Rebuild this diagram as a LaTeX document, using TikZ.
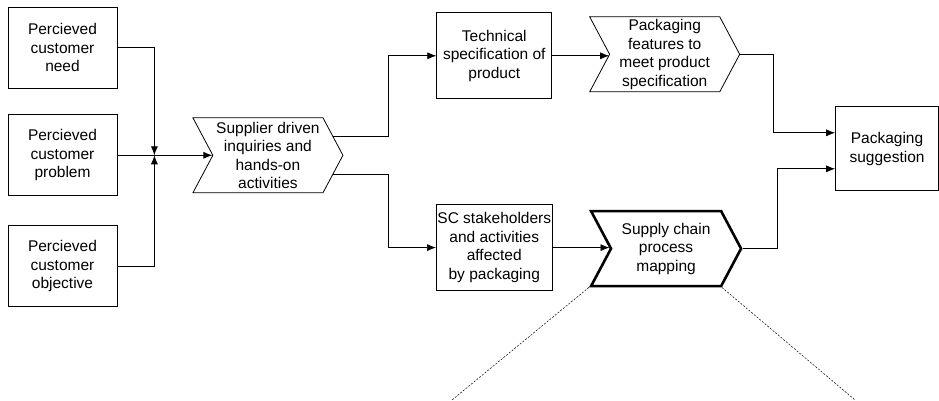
\documentclass[tikz,border=0pt]{standalone}
\usepackage{fontspec}
\setmainfont{Liberation Sans}
\usetikzlibrary{arrows.meta,positioning,shapes.symbols,calc}
\tikzstyle{line} = [draw, -{Latex[length=9pt,width=7pt]}, line width=0.7pt]

\begin{document}
\begin{tikzpicture}[x=1pt,y=1pt,font=\fontsize{15.5}{18.5}\selectfont,
box/.style={draw,rectangle,align=center,inner sep=1pt,line width=0.8pt},
leftbox/.style={box,minimum width=109pt,minimum height=81pt},
midbox/.style={box,minimum width=115pt,minimum height=86pt},
chev/.style={draw,shape=signal,signal from=west,signal to=east,
  signal pointer angle=124,minimum width=150pt,minimum height=75pt,
  align=center,inner sep=0pt,line width=0.8pt},
zoomline/.style={dash pattern=on 2pt off 1.5pt,line width=0.5pt}]
\useasboundingbox (0,0) rectangle (939,-400);
% customer side
\node[leftbox] (need) at (62.5,-47.5) {Percieved\\customer\\need};
\node[leftbox,below=26pt of need] (problem) {Percieved\\customer\\problem};
\node[leftbox,below=29pt of problem] (objective) {Percieved\\customer\\objective};
\coordinate[right=37pt of problem] (merge);
\node[chev,right=95pt of problem] (inquiry) {Supplier driven\\inquiries and\\hands-on\\activities};
% two branches
\node[midbox,right=93pt of inquiry,yshift=99.5pt] (tech) {Technical\\specification of\\product};
\node[midbox,below=105pt of tech] (stake) {SC stakeholders\\and activities\\affected\\by packaging};
\node[chev,right=57pt of tech,yshift=1.5pt] (features) {Packaging\\features to\\meet product\\specification};
\node[chev,line width=2.6pt,right=57pt of stake,yshift=-1pt] (mapping) {Supply chain\\process\\mapping};
\node[box,minimum width=103pt,minimum height=84pt,right=95pt of features,yshift=-94.5pt] (sugg) {Packaging\\suggestion};
% connectors
\draw[line] (need.east) -| (merge);
\draw[line] (objective.east) -| (merge);
\draw[line] (problem.east) -- (inquiry.west);
\draw[line] (inquiry.16) -- ++(55,0) |- (tech.west);
\draw[line] (inquiry.-16) -- ++(55,0) |- (stake.west);
\draw[line] (tech.east) -- (tech.east -| features.west);
\draw[line] (stake.east) -- (stake.east -| mapping.west);
\draw[line] (features.east) -- ++(33,0) |- ([yshift=16pt]sugg.west);
\draw[line] (mapping.east) -- ++(35,0) |- ([yshift=-20pt]sugg.west);
% zoom lines
\coordinate (zoomleft) at (452,-400);
\coordinate (zoomright) at (855,-400);
\draw[zoomline] (mapping.south west) -- (zoomleft);
\draw[zoomline] (mapping.south east) -- (zoomright);
\end{tikzpicture}
\end{document}
